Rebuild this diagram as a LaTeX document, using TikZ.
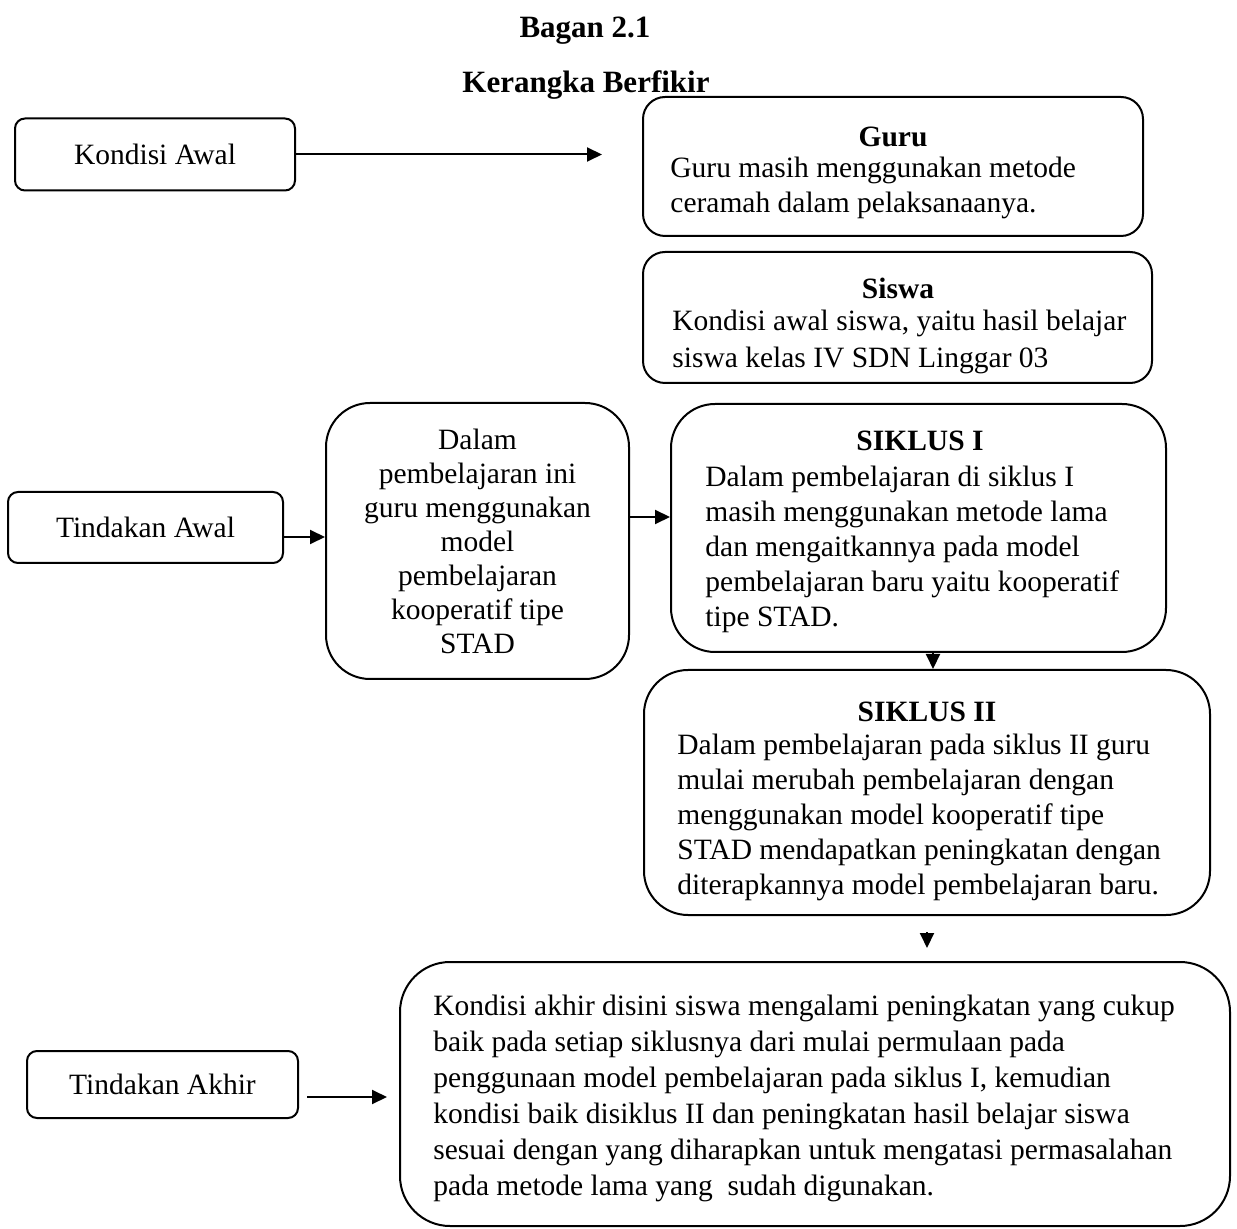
\documentclass[tikz,border=0pt]{standalone}
\usepackage{fontspec}
\setmainfont{Liberation Serif}
\usetikzlibrary{arrows.meta}

\begin{document}
\begin{tikzpicture}[
x=0.5pt,
y=-0.5pt,
kotak/.style={
draw,
line width=1pt,
inner sep=0pt,
align=center,
font=\fontsize{14.75}{17}\selectfont
},
teks/.style={
inner sep=0pt,
align=left,
font=\fontsize{14.75}{17.5}\selectfont
},
judul/.style={
inner sep=0pt,
font=\bfseries\fontsize{14.75}{17.5}\selectfont
},
panah/.style={-{Triangle[length=7.5pt,width=7pt]}, line width=1pt}
]

\useasboundingbox (0,0) rectangle (1237,1229);

\node[judul, font=\bfseries\fontsize{15.5}{18}\selectfont] (BG) at (585,31) {Bagan 2.1};
\node[judul, font=\bfseries\fontsize{15.5}{18}\selectfont] (KB) at (586,85) {Kerangka Berfikir};

\node[kotak, rounded corners=5pt, minimum width=140pt, minimum height=36pt] (KA) at (155,154.5) {Kondisi Awal};

\node[kotak, rounded corners=11pt, minimum width=250pt, minimum height=69.5pt] (GR) at (893,166.5) {};
\node[judul] (GRj) at (893,137) {Guru};
\node[teks, anchor=west] (GRt) at (670,188) {Guru masih menggunakan metode\\ceramah dalam pelaksanaanya.};

\node[kotak, rounded corners=11pt, minimum width=254.5pt, minimum height=65.5pt] (SW) at (897.5,317.5) {};
\node[judul] (SWj) at (898,288) {Siswa};
\node[teks, anchor=west, font=\fontsize{14.75}{18.5}\selectfont] (SWt) at (672,342) {Kondisi awal siswa, yaitu hasil belajar\\siswa kelas IV SDN Linggar 03};

\node[kotak, rounded corners=5pt, minimum width=137.5pt, minimum height=35.5pt] (TA) at (145.5,527.5) {Tindakan Awal};

\node[kotak, rounded corners=22pt, minimum width=151.5pt, minimum height=138pt] (DP) at (477.5,541) {Dalam\\pembelajaran ini\\guru menggunakan\\model\\pembelajaran\\kooperatif tipe\\STAD};

\node[kotak, rounded corners=22pt, minimum width=247.5pt, minimum height=124pt] (S1) at (918.5,528) {};
\node[judul] (S1j) at (920,441) {SIKLUS I};
\node[teks, anchor=west] (S1t) at (705,549) {Dalam pembelajaran di siklus I\\masih menggunakan metode lama\\dan mengaitkannya pada model\\pembelajaran baru yaitu kooperatif\\tipe STAD.};

\node[kotak, rounded corners=22pt, minimum width=283pt, minimum height=122.5pt] (S2) at (927,792.5) {};
\node[judul] (S2j) at (927,712) {SIKLUS II};
\node[teks, anchor=west] (S2t) at (677,817) {Dalam pembelajaran pada siklus II guru\\mulai merubah pembelajaran dengan\\menggunakan model kooperatif tipe\\STAD mendapatkan peningkatan dengan\\diterapkannya model pembelajaran baru.};

\node[kotak, rounded corners=5pt, minimum width=135.5pt, minimum height=33.5pt] (TK) at (162.5,1084.5) {Tindakan Akhir};

\node[kotak, rounded corners=25pt, minimum width=415pt, minimum height=132pt] (KK) at (815,1094) {};
\node[teks, anchor=west, font=\fontsize{14.75}{18}\selectfont] (KKt) at (433,1098) {Kondisi akhir disini siswa mengalami peningkatan yang cukup\\baik pada setiap siklusnya dari mulai permulaan pada\\penggunaan model pembelajaran pada siklus I, kemudian\\kondisi baik disiklus II dan peningkatan hasil belajar siswa\\sesuai dengan yang diharapkan untuk mengatasi permasalahan\\pada metode lama yang\ \ sudah digunakan.};

\draw[panah] (KA.east) -- ([xshift=-20pt]KA.east -| GR.west);
\draw[panah] ([yshift=-4.75pt]TA.east) -- ([yshift=-4.75pt]TA.east -| DP.west);
\draw[panah] ([yshift=12pt]DP.east) -- ([yshift=12pt]DP.east -| S1.west);
\draw[panah] ([xshift=7.25pt]S1.south) -- ([xshift=7.25pt]S1.south |- S2.north);
\draw[panah] ([yshift=-8pt]S2.south) -- ([yshift=6.5pt]S2.south |- KK.north);
\draw[panah] ([xshift=4pt,yshift=-6.25pt]TK.east) -- ([xshift=-6pt,yshift=-6.25pt]TK.east -| KK.west);

\end{tikzpicture}
\end{document}
